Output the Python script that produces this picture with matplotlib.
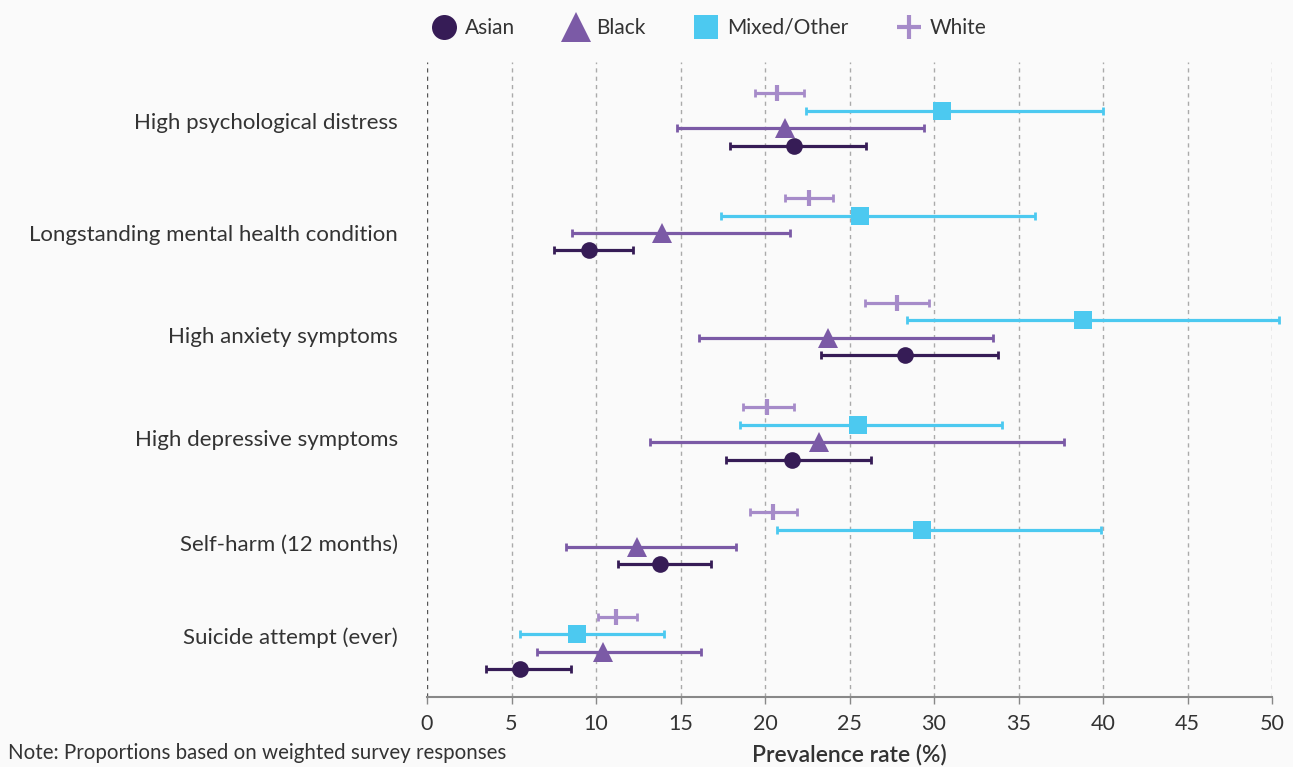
import matplotlib
matplotlib.use("Agg")
import matplotlib.pyplot as plt
from matplotlib.lines import Line2D

plt.rcParams["font.family"] = ["Lato", "DejaVu Sans"]

categories = [
    "High psychological distress",
    "Longstanding mental health condition",
    "High anxiety symptoms",
    "High depressive symptoms",
    "Self-harm (12 months)",
    "Suicide attempt (ever)",
]

series_names = ["White", "Mixed/Other", "Black", "Asian"]

white = [20.7, 22.6, 27.8, 20.1, 20.5, 11.2]
white_lo = [19.4, 21.2, 25.9, 18.7, 19.1, 10.1]
white_hi = [22.3, 24.0, 29.7, 21.7, 21.9, 12.4]

mixed = [30.5, 25.6, 38.8, 25.5, 29.3, 8.9]
mixed_lo = [22.4, 17.4, 28.4, 18.5, 20.7, 5.5]
mixed_hi = [40.0, 36.0, 50.4, 34.0, 39.9, 14.0]

black = [21.2, 13.9, 23.7, 23.2, 12.4, 10.4]
black_lo = [14.8, 8.6, 16.1, 13.2, 8.2, 6.5]
black_hi = [29.4, 21.5, 33.5, 37.7, 18.3, 16.2]

asian = [21.7, 9.6, 28.3, 21.6, 13.8, 5.5]
asian_lo = [17.9, 7.5, 23.3, 17.7, 11.3, 3.5]
asian_hi = [26.0, 12.2, 33.8, 26.3, 16.8, 8.5]

x_ticks = [0, 5, 10, 15, 20, 25, 30, 35, 40, 45, 50]

# styling per series
colors = {"White": "#a68bc9", "Mixed/Other": "#4cc9f0", "Black": "#7b5aa6", "Asian": "#361c56"}
markers = {"White": "|", "Mixed/Other": "s", "Black": "^", "Asian": "o"}
msizes = {"White": 12, "Mixed/Other": 12.5, "Black": 14, "Asian": 12}
mews = {"White": 3, "Mixed/Other": 0, "Black": 0, "Asian": 0}

data = {
    "White": (white, white_lo, white_hi),
    "Mixed/Other": (mixed, mixed_lo, mixed_hi),
    "Black": (black, black_lo, black_hi),
    "Asian": (asian, asian_lo, asian_hi),
}

text_color = "#333333"
bg = "#fafafa"

fig = plt.figure(figsize=(12.93, 7.67), dpi=100, facecolor=bg)
ax = fig.add_axes([427 / 1293, 1 - 697 / 767, (1272 - 427) / 1293, (697 - 62) / 767])
ax.set_facecolor(bg)

group_step = 6
for j, name in enumerate(series_names):
    vals, lo, hi = data[name]
    ys = [g * group_step + j for g in range(len(categories))]
    xerr = [[v - l for v, l in zip(vals, lo)], [h - v for v, h in zip(vals, hi)]]
    ax.errorbar(
        vals, ys, xerr=xerr, fmt="none", ecolor=colors[name], elinewidth=2.3,
        capsize=3.2, capthick=2.0, clip_on=False, zorder=3,
    )
    ax.plot(
        vals, ys, linestyle="none", marker=markers[name], markersize=msizes[name],
        color=colors[name], markeredgewidth=mews[name], markeredgecolor=colors[name],
        clip_on=False, zorder=4,
    )

# category labels
label_y = [1.57, 7.99, 13.85, 19.77, 25.75, 31.1]
ax.set_yticks(label_y)
ax.set_yticklabels(categories, fontsize=16, color=text_color)
ax.tick_params(axis="y", length=0, pad=21)

ax.set_ylim(34.6, -1.8)
ax.set_xlim(0, 50)
ax.set_xticks(x_ticks)
ax.set_xticklabels([str(t) for t in x_ticks], fontsize=15.5, color=text_color)
ax.tick_params(axis="x", length=5, width=1, color="#888888", pad=7)

for t in x_ticks:
    if t == 0:
        ax.axvline(t, color="#555555", linestyle=(0, (3, 3)), linewidth=1.0, zorder=1)
    else:
        ax.axvline(t, color="#aaaaaa", linestyle=(0, (3, 3)), linewidth=1.0, zorder=1)

for side in ["top", "right", "left"]:
    ax.spines[side].set_visible(False)
ax.spines["bottom"].set_color("#888888")
ax.spines["bottom"].set_linewidth(1.5)

ax.set_xlabel("Prevalence rate (%)", fontsize=16.5, color=text_color, fontweight="semibold", labelpad=7)

fig.text(8 / 1293, 1 - 753 / 767, "Note: Proportions based on weighted survey responses",
         fontsize=14.8, color=text_color, ha="left", va="center")

# legend
legend_order = ["Asian", "Black", "Mixed/Other", "White"]
leg_sizes = {"Asian": 18, "Black": 21, "Mixed/Other": 17, "White": 17}
handles = []
for name in legend_order:
    m = "+" if name == "White" else markers[name]
    handles.append(Line2D([], [], linestyle="none", marker=m, markersize=leg_sizes[name],
                          color=colors[name], markeredgewidth=3 if name == "White" else 0))
fig.legend(handles, legend_order, loc="center", bbox_to_anchor=(709 / 1293, 1 - 28 / 767),
           ncol=4, frameon=False, fontsize=15, handletextpad=0.4, columnspacing=2.3,
           labelcolor=text_color, handlelength=1.2)

fig.savefig("out.png", dpi=100, facecolor=bg)
